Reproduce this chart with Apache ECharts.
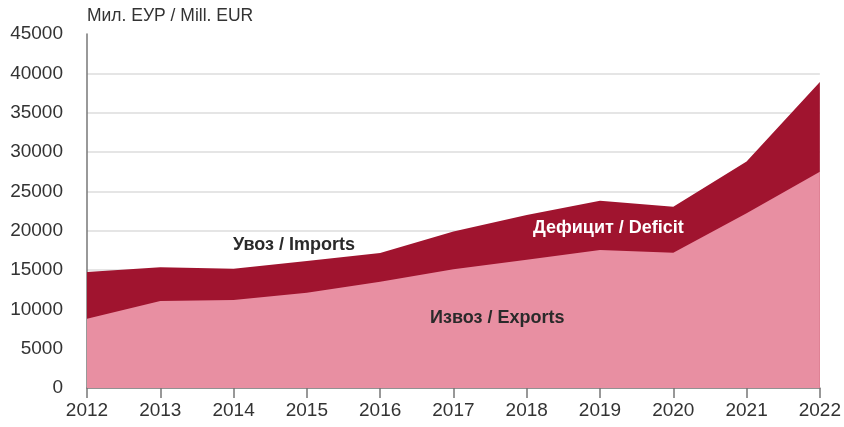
<!DOCTYPE html>
<html><head><meta charset="utf-8">
<script src="https://cdn.jsdelivr.net/npm/echarts@6/dist/echarts.min.js"></script>
<style>html,body{margin:0;padding:0;background:#fff}#c{width:844px;height:427px}</style>
</head><body><div id="c"></div>
<script>
const years = ['2012','2013','2014','2015','2016','2017','2018','2019','2020','2021','2022'];
const imports = [14750, 15350, 15150, 16150, 17150, 19900, 22000, 23800, 23050, 28800, 38900];
const exports = [8800, 11050, 11200, 12100, 13500, 15100, 16300, 17550, 17200, 22200, 27500];
const yTicks = [0, 45000, 5000];

const chart = echarts.init(document.getElementById('c'));
const font = 'Liberation Sans, Arial, sans-serif';
chart.setOption({
  animation: false,
  grid: {left: 87, right: 24, top: 34, bottom: 39},
  xAxis: {
    type: 'category', data: years, boundaryGap: false,
    axisLine: {lineStyle: {color: '#777', width: 1.5}},
    axisTick: {show: true, length: 10, lineStyle: {color: '#777', width: 1.5}},
    axisLabel: {fontSize: 19, color: '#333', fontFamily: font, margin: 13}
  },
  yAxis: {
    type: 'value', min: yTicks[0], max: yTicks[1], interval: yTicks[2],
    axisLine: {show: true, lineStyle: {color: '#777', width: 1.5}},
    axisTick: {show: false},
    axisLabel: {fontSize: 19, color: '#333', fontFamily: font, margin: 24,
      formatter: v => String(v)},
    splitLine: {show: true, showMaxLine: false, lineStyle: {color: '#ddd', width: 1.5}}
  },
  series: [
    {name: 'Imports', type: 'line', data: imports, symbol: 'none',
     lineStyle: {width: 0}, areaStyle: {color: '#a0142f', opacity: 1}, z: 1},
    {name: 'Exports', type: 'line', data: exports, symbol: 'none',
     lineStyle: {width: 0}, areaStyle: {color: '#e88fa2', opacity: 1}, z: 2}
  ],
  graphic: [
    {type: 'text', left: 87, top: 7, z: 10, style: {text: 'Мил. ЕУР / Mill. EUR', fontSize: 17.5, fill: '#333', fontFamily: font}},
    {type: 'text', left: 233, top: 236, z: 10, style: {text: 'Увоз / Imports', fontSize: 18, fontWeight: 'bold', fill: '#2a2a2a', fontFamily: font}},
    {type: 'text', left: 533, top: 219, z: 10, style: {text: 'Дефицит / Deficit', fontSize: 18, fontWeight: 'bold', fill: '#fff', fontFamily: font}},
    {type: 'text', left: 430, top: 309, z: 10, style: {text: 'Извоз / Exports', fontSize: 18, fontWeight: 'bold', fill: '#2a2a2a', fontFamily: font}}
  ]
});
</script></body></html>
